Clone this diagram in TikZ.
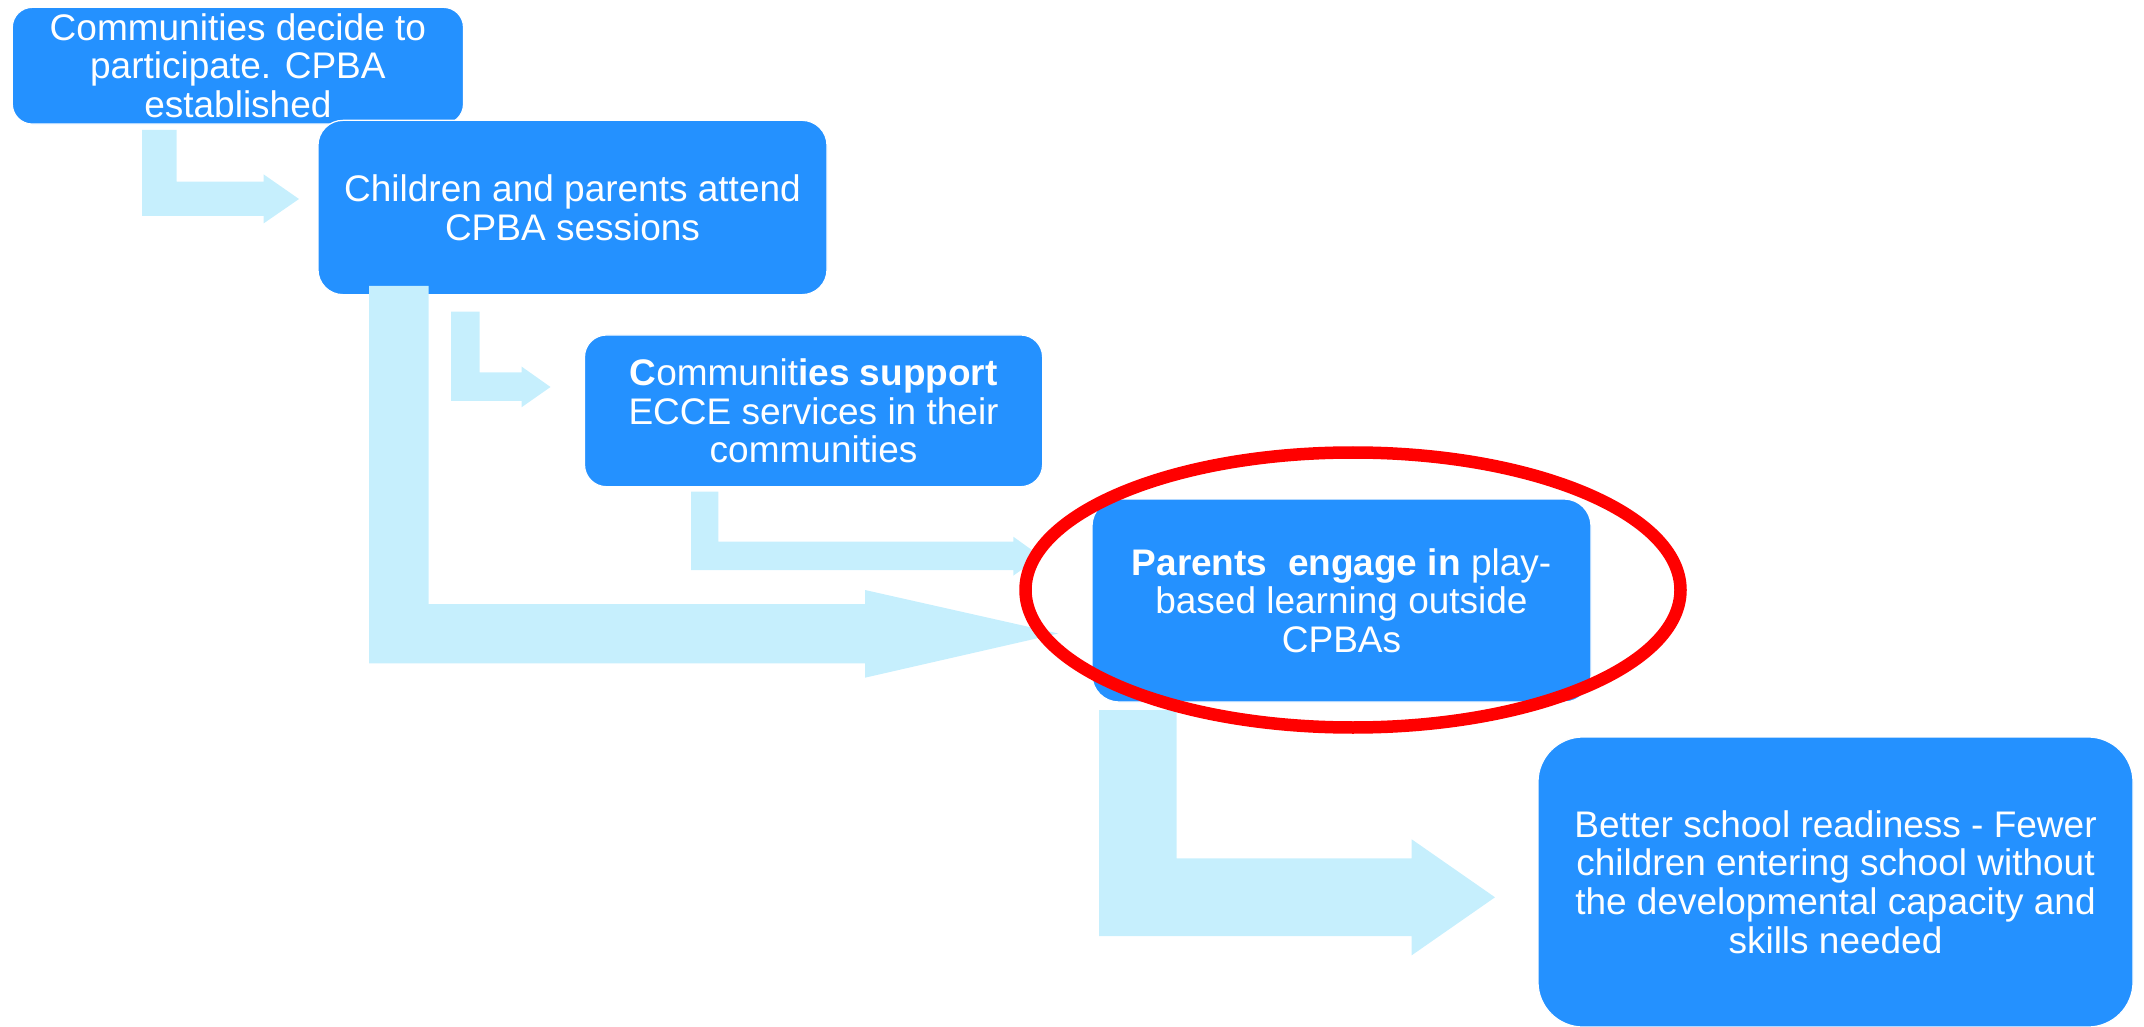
\documentclass[tikz,border=0pt]{standalone}
\usepackage{fontspec}
\setmainfont{Liberation Sans}
\definecolor{boxblue}{HTML}{2491FF}
\definecolor{arrowblue}{HTML}{C6EFFD}
\definecolor{ringred}{HTML}{FF0000}
\begin{document}
\begin{tikzpicture}[x=0.5pt,y=-0.5pt,
  stepbox/.style={fill=boxblue, draw=white, line width=0.6pt, text=white,
    align=center, inner sep=0pt, font=\fontsize{18.5pt}{19.35pt}\selectfont},
  blockarrow/.style={fill=arrowblue, draw=none},
  ring/.style={draw=ringred, line width=6.25pt}]
\useasboundingbox (0,0) rectangle (2144,1027);

% boxes
\node[stepbox, minimum width=225.6pt, minimum height=58.35pt, rounded corners=10pt]
  (b1) at (237.9,65.7) {Communities decide to\\participate. CPBA\\established};
\node[stepbox, minimum width=254.5pt, minimum height=87.15pt, rounded corners=12.5pt]
  (b2) at (572.5,207.5) {Children and parents attend\\CPBA sessions};
\node[stepbox, minimum width=229.05pt, minimum height=75.85pt, rounded corners=11pt]
  (b3) at (813.55,410.85) {\textbf{C}ommunit\textbf{ies support}\\ECCE services in their\\communities};
\node[stepbox, minimum width=249.5pt, minimum height=101.5pt, rounded corners=13.5pt]
  (b4) at (1341.5,600.5) {\textbf{Parents\ \ engage in} play-\\based learning outside\\CPBAs};
\node[stepbox, minimum width=297.5pt, minimum height=145pt, rounded corners=22.5pt]
  (b5) at (1835.5,882) {Better school readiness - Fewer\\children entering school without\\the developmental capacity and\\skills needed};

% block arrows
\fill[blockarrow] (142,130) -- (176.5,130) -- (176.5,181.7) -- (263.5,181.7)
  -- (263.5,174.3) -- (299,199) -- (263.5,223.5) -- (263.5,216) -- (142,216) -- cycle;
\fill[blockarrow] (369,286) -- (428.7,286) -- (428.7,604) -- (865,604)
  -- (865,590) -- (1058.3,633.5) -- (865,677.7) -- (865,663.3) -- (369,663.3) -- cycle;
\fill[blockarrow] (451,311.7) -- (479.5,311.7) -- (479.5,372.3) -- (521.5,372.3)
  -- (521.5,366.5) -- (550.5,387) -- (521.5,407.3) -- (521.5,401) -- (451,401) -- cycle;
\fill[blockarrow] (691,491.7) -- (718.3,491.7) -- (718.3,541.7) -- (1013.3,541.7)
  -- (1013.3,536.7) -- (1040.5,556.2) -- (1013.3,575.7) -- (1013.3,570) -- (691,570) -- cycle;
\fill[blockarrow] (1099,710) -- (1176.7,710) -- (1176.7,858.3) -- (1411.7,858.3)
  -- (1411.7,839.3) -- (1495,897.3) -- (1411.7,955.3) -- (1411.7,936) -- (1099,936) -- cycle;

% highlight ring
\draw[ring] (1353,590) ellipse [x radius=163.75pt, y radius=68.75pt];
\end{tikzpicture}
\end{document}
